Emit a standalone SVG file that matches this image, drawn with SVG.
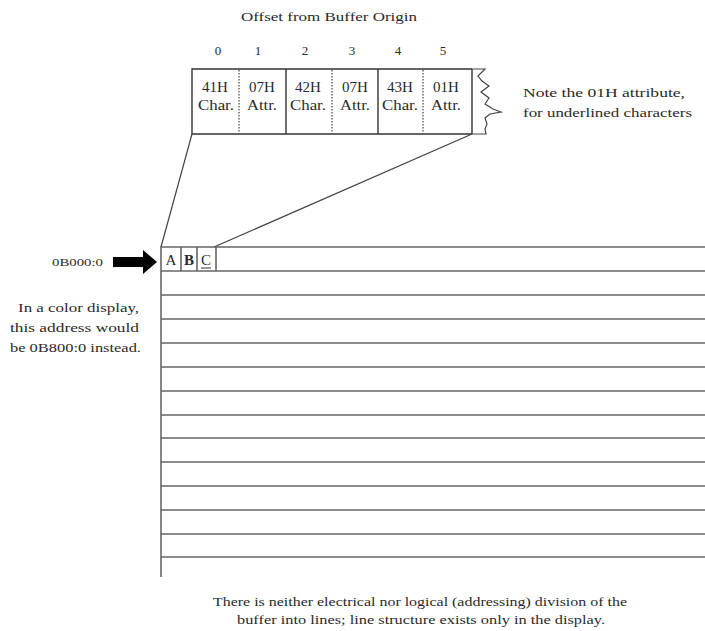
<svg xmlns="http://www.w3.org/2000/svg" width="705" height="631" viewBox="0 0 705 631">
<style>
text{font-family:"Liberation Serif","Times New Roman",serif;fill:#2a2a2a}
.t{font-size:13px}
.cell{font-size:15px;text-anchor:middle}
.c{text-anchor:middle}
.box{fill:none;stroke:#333;stroke-width:1.4}
.sep{stroke:#333;stroke-width:1.4}
.dot{stroke:#444;stroke-width:1.2;stroke-dasharray:1.5 1.5}
.row{stroke:#666;stroke-width:1.6}
.conn{stroke:#444;stroke-width:1.2;fill:none}
</style>
<rect width="705" height="631" fill="#fff"/>
<g id="title"><text class="t c" x="329" y="21" textLength="176" lengthAdjust="spacingAndGlyphs">Offset from Buffer Origin</text></g>
<g id="offsets" font-size="13">
<text class="c" x="218" y="55" font-size="13">0</text>
<text class="c" x="258" y="55" font-size="13">1</text>
<text class="c" x="305" y="55" font-size="13">2</text>
<text class="c" x="352" y="55" font-size="13">3</text>
<text class="c" x="398" y="55" font-size="13">4</text>
<text class="c" x="443" y="55" font-size="13">5</text>
</g>
<g id="bytebox">
<path class="box" d="M472,69 H192 V134 H472"/>
<line class="sep" x1="472" y1="69" x2="472" y2="134"/>
<line class="dot" x1="239" y1="70" x2="239" y2="133"/>
<line class="sep" x1="286" y1="69" x2="286" y2="134"/>
<line class="dot" x1="332" y1="70" x2="332" y2="133"/>
<line class="sep" x1="378" y1="69" x2="378" y2="134"/>
<line class="dot" x1="423" y1="70" x2="423" y2="133"/>
<path class="conn" d="M472,69 H485 L478,76 L482,81 L489,86 L481,92 L489,98 L485,104 L493,109 L501,112 L490,114 L485,118 L487,124 L485,129 L486,134 H472"/>
<g>
<text class="cell" x="215" y="92">41H</text><text class="cell" x="216" y="110" textLength="36" lengthAdjust="spacingAndGlyphs">Char.</text>
<text class="cell" x="262" y="92">07H</text><text class="cell" x="262" y="110" textLength="30" lengthAdjust="spacingAndGlyphs">Attr.</text>
<text class="cell" x="308" y="92">42H</text><text class="cell" x="308" y="110" textLength="36" lengthAdjust="spacingAndGlyphs">Char.</text>
<text class="cell" x="355" y="92">07H</text><text class="cell" x="355" y="110" textLength="30" lengthAdjust="spacingAndGlyphs">Attr.</text>
<text class="cell" x="400" y="92">43H</text><text class="cell" x="400" y="110" textLength="36" lengthAdjust="spacingAndGlyphs">Char.</text>
<text class="cell" x="446" y="92">01H</text><text class="cell" x="446" y="110" textLength="30" lengthAdjust="spacingAndGlyphs">Attr.</text>
</g>
</g>
<g id="note">
<text class="t" x="523" y="97" textLength="162" lengthAdjust="spacingAndGlyphs">Note the 01H attribute,</text>
<text class="t" x="523" y="117" textLength="169" lengthAdjust="spacingAndGlyphs">for underlined characters</text>
</g>
<g id="connectors">
<line class="conn" x1="192" y1="134" x2="161" y2="247"/>
<line class="conn" x1="472" y1="134" x2="214" y2="247"/>
<path d="M113,257 H143 V250 L157,262 L143,274 V267 H113 Z" fill="#000"/>
</g>
<g id="address">
<text x="103" y="266" font-size="11" text-anchor="end" textLength="51" lengthAdjust="spacingAndGlyphs">0B000:0</text>
<text class="t" x="139" y="312" text-anchor="end" textLength="121" lengthAdjust="spacingAndGlyphs">In a color display,</text>
<text class="t" x="139" y="332" text-anchor="end" textLength="129" lengthAdjust="spacingAndGlyphs">this address would</text>
<text class="t" x="141" y="352" text-anchor="end" textLength="131" lengthAdjust="spacingAndGlyphs">be 0B800:0 instead.</text>
</g>
<g id="buffer">
<line class="row" x1="161" y1="246" x2="161" y2="577"/>
<line class="row" x1="161" y1="247" x2="705" y2="247"/>
<line class="row" x1="161" y1="271" x2="705" y2="271"/>
<line class="row" x1="161" y1="295" x2="705" y2="295"/>
<line class="row" x1="161" y1="319" x2="705" y2="319"/>
<line class="row" x1="161" y1="343" x2="705" y2="343"/>
<line class="row" x1="161" y1="367" x2="705" y2="367"/>
<line class="row" x1="161" y1="391" x2="705" y2="391"/>
<line class="row" x1="161" y1="415" x2="705" y2="415"/>
<line class="row" x1="161" y1="438" x2="705" y2="438"/>
<line class="row" x1="161" y1="462" x2="705" y2="462"/>
<line class="row" x1="161" y1="486" x2="705" y2="486"/>
<line class="row" x1="161" y1="510" x2="705" y2="510"/>
<line class="row" x1="161" y1="534" x2="705" y2="534"/>
<line class="row" x1="161" y1="557" x2="705" y2="557"/>
<line class="row" x1="181" y1="247" x2="181" y2="271"/>
<line class="row" x1="197" y1="247" x2="197" y2="271" stroke-width="2.2"/>
<line class="row" x1="216" y1="247" x2="216" y2="271"/>
<g class="c" font-size="15">
<text x="171" y="265">A</text>
<text x="189" y="265" font-weight="bold">B</text>
<text x="206" y="265">C</text>
</g>
<line x1="201" y1="268" x2="211" y2="268" stroke="#333" stroke-width="1"/>
</g>
<g id="footer">
<text class="t c" x="420" y="606" textLength="414" lengthAdjust="spacingAndGlyphs">There is neither electrical nor logical (addressing) division of the</text>
<text class="t c" x="421" y="624" textLength="368" lengthAdjust="spacingAndGlyphs">buffer into lines; line structure exists only in the display.</text>
</g>
</svg>
